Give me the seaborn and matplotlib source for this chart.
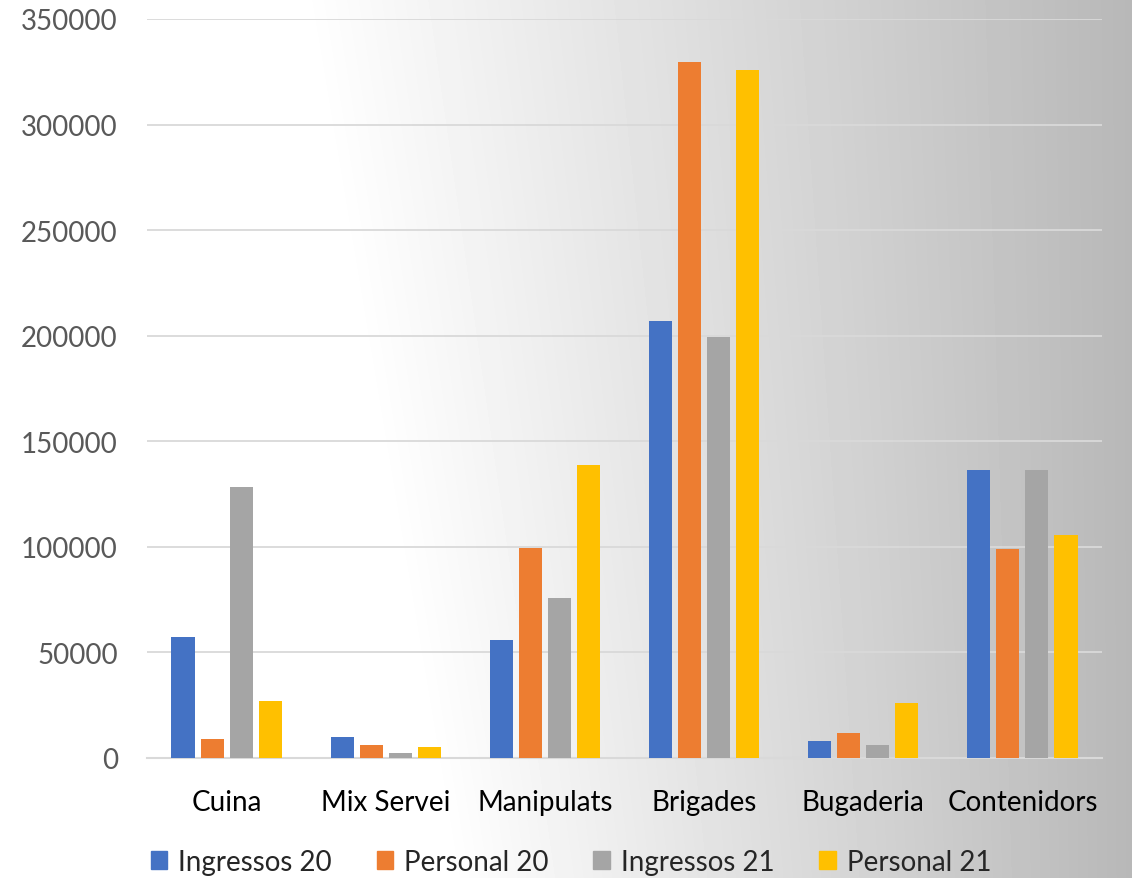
import numpy as np
import pandas as pd
import matplotlib
matplotlib.use("Agg")
import matplotlib.pyplot as plt
import seaborn as sns

categories = ["Cuina", "Mix Servei", "Manipulats", "Brigades", "Bugaderia", "Contenidors"]
series = ["Ingressos 20", "Personal 20", "Ingressos 21", "Personal 21"]
ingressos_20 = [57300, 9900, 55900, 207000, 8000, 136400]
personal_20 = [9100, 6200, 99500, 329700, 11900, 99000]
ingressos_21 = [128400, 2600, 75800, 199400, 6300, 136400]
personal_21 = [26900, 5100, 138800, 325900, 25900, 105700]
colors = ["#4472C4", "#ED7D31", "#A5A5A5", "#FFC000"]

rows = []
for s, vals in zip(series, [ingressos_20, personal_20, ingressos_21, personal_21]):
    for c, v in zip(categories, vals):
        rows.append({"cat": c, "serie": s, "valor": v})
df = pd.DataFrame(rows)

sns.set_theme(style="white")
plt.rcParams["font.family"] = ["Lato", "DejaVu Sans"]

fig = plt.figure(figsize=(11.32, 8.79), dpi=100)

# background gradient, white at left going to grey at right
H, W = 879, 1132
yy, xx = np.mgrid[0:H, 0:W]
x0 = 300 + 150 * yy / H
t = np.clip((xx - x0) / (W - x0), 0, 1)
shade = 1 - 0.28 * t
bg = fig.add_axes([0, 0, 1, 1], zorder=0)
bg.imshow(shade, cmap="gray", vmin=0, vmax=1, aspect="auto", interpolation="bilinear")
bg.axis("off")

ax = fig.add_axes([147 / W, 1 - 759 / H, 955 / W, 739 / H], zorder=1)
ax.patch.set_alpha(0)
sns.barplot(data=df, x="cat", y="valor", hue="serie", palette=colors,
            width=0.73, ax=ax, legend=False, saturation=1)

bar_w = 0.145
for p in ax.patches:
    cx = p.get_x() + p.get_width() / 2
    p.set_width(bar_w)
    p.set_x(cx - bar_w / 2)
    p.set_edgecolor("none")
    p.set_zorder(3)

ax.set_xlim(-0.5, 5.5)
ax.set_ylim(0, 350000)
ax.set_yticks(range(0, 350001, 50000))
ax.set_yticklabels([str(v) for v in range(0, 350001, 50000)])
ax.grid(axis="y", color="#d9d9d9", linewidth=1.3, zorder=0)
ax.set_axisbelow(True)
for s in ["top", "right", "left"]:
    ax.spines[s].set_visible(False)
ax.spines["bottom"].set_color("#d9d9d9")
ax.spines["bottom"].set_linewidth(1.5)
ax.tick_params(axis="y", labelsize=20, labelcolor="#595959", length=0, pad=21)
ax.tick_params(axis="x", labelsize=20, labelcolor="#000000", length=0, pad=22)
ax.set_xlabel("")
ax.set_ylabel("")

# legend along the bottom
handles = [plt.Rectangle((0, 0), 1, 1, color=c) for c in colors]
fig.legend(handles, series, loc="center", bbox_to_anchor=(571 / W, 1 - 863 / H),
           ncol=4, frameon=False, fontsize=20, handlelength=0.6, handleheight=0.6,
           handletextpad=0.4, columnspacing=1.6)

fig.savefig("out.png", dpi=100)
